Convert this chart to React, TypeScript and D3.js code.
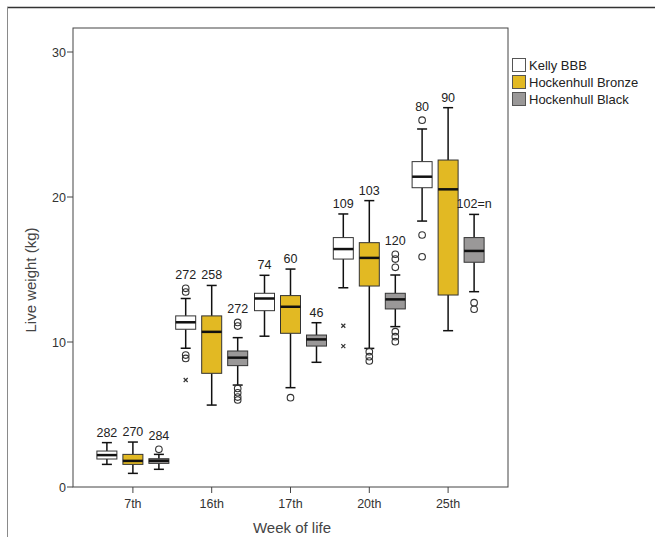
import * as d3 from 'd3'
import React from 'react';

// categories
const weeks = ['7th', '16th', '17th', '20th', '25th'];
const groups = ['Kelly BBB', 'Hockenhull Bronze', 'Hockenhull Black'];
const fills = ['#ffffff', '#e2b923', '#9a9898'];

// box stats per week: [whiskerLow, q1, median, q3, whiskerHigh]
const kellyBoxes = [
    [1.56, 1.93, 2.2, 2.48, 3.06],
    [9.57, 10.88, 11.36, 11.8, 13.0],
    [10.4, 12.16, 13.0, 13.36, 14.6],
    [13.74, 15.72, 16.41, 17.2, 18.83],
    [18.34, 20.64, 21.4, 22.44, 24.69],
];
const bronzeBoxes = [
    [0.94, 1.56, 1.8, 2.25, 3.1],
    [5.65, 7.84, 10.7, 11.8, 13.9],
    [6.85, 10.6, 12.43, 13.2, 15.03],
    [9.56, 13.86, 15.8, 16.85, 19.75],
    [10.78, 13.24, 20.53, 22.55, 26.16],
];
const blackBoxes = [
    [1.22, 1.63, 1.81, 1.95, 2.25],
    [7.03, 8.37, 8.92, 9.38, 10.3],
    [8.6, 9.72, 10.18, 10.48, 11.33],
    [11.06, 12.28, 12.94, 13.36, 14.62],
    [13.47, 15.5, 16.28, 17.2, 18.8],
];

// outliers (circles) per week
const kellyOutliers = [[], [13.45, 13.7, 9.1, 8.87], [], [], [25.3, 17.38, 15.88]];
const bronzeOutliers = [[], [], [6.16], [9.33, 8.99, 8.69], []];
const blackOutliers = [[2.6], [11.1, 11.35, 6.8, 6.5, 6.2, 6.0], [], [16.05, 15.72, 15.15, 10.71, 10.37, 10.02], [12.71, 12.26]];

// extremes (crosses) per week
const kellyExtremes = [[], [7.38], [], [11.12, 9.72], []];
const bronzeExtremes = [[], [], [], [], []];
const blackExtremes = [[], [], [], [], []];

// sample size labels
const kellyN = ['282', '272', '74', '109', '80'];
const bronzeN = ['270', '258', '60', '103', '90'];
const blackN = ['284', '272', '46', '120', '102=n'];

const yTicks = [0, 10, 20, 30];

const boxes = [kellyBoxes, bronzeBoxes, blackBoxes];
const outliers = [kellyOutliers, bronzeOutliers, blackOutliers];
const extremes = [kellyExtremes, bronzeExtremes, blackExtremes];
const nLabels = [kellyN, bronzeN, blackN];

const App = () => {
    const left = 73, right = 508, top = 28, bottom = 487;
    const font = 'Liberation Sans, Arial, sans-serif';

    const x = d3.scalePoint().domain(weeks).range([left, right]).padding(0.76);
    const y = d3.scaleLinear().domain([0, 30]).range([bottom, 52]);
    const offset = d3.scalePoint().domain(groups).range([-26, 26]);
    const bw = 20;

    return (
        <svg width={655} height={537} style={{ position: 'absolute', left: 0, top: 0 }} fontFamily={font}>
            {/* outer frame: top and left only */}
            <line x1={7} x2={655} y1={7.5} y2={7.5} stroke="#333" strokeWidth={1.5} />
            <line x1={7.5} x2={7.5} y1={7} y2={537} stroke="#8a8a8a" />
            {/* plot frame */}
            <rect x={left} y={top} width={right - left} height={bottom - top} fill="#fff" stroke="#444" />

            {/* y axis */}
            {yTicks.map(t => (
                <g key={t}>
                    <line x1={left - 6} x2={left} y1={y(t)} y2={y(t)} stroke="#444" />
                    <text x={left - 7} y={y(t) + 4.5} textAnchor="end" fontSize={12.5} fill="#333">{t}</text>
                </g>
            ))}
            <text transform={`translate(36, 280) rotate(-90)`} textAnchor="middle" fontSize={15} fill="#444">Live weight (kg)</text>

            {/* x axis */}
            {weeks.map(w => (
                <g key={w}>
                    <line x1={x(w)} x2={x(w)} y1={bottom} y2={bottom + 6} stroke="#444" />
                    <text x={x(w)} y={bottom + 21} textAnchor="middle" fontSize={12.5} fill="#333">{w}</text>
                </g>
            ))}
            <text x={292} y={533} textAnchor="middle" fontSize={15} fill="#444">Week of life</text>

            {/* boxes */}
            {groups.map((g, gi) => weeks.map((w, wi) => {
                const [lo, q1, med, q3, hi] = boxes[gi][wi];
                const cx = x(w) + offset(g);
                const outs = outliers[gi][wi];
                const exts = extremes[gi][wi];
                const topVal = d3.max([hi, ...outs, ...exts]);
                const gap = topVal > hi ? 9 : 6;
                return (
                    <g key={g + w}>
                        <line x1={cx} x2={cx} y1={y(hi)} y2={y(q3)} stroke="#111" strokeWidth={1.5} />
                        <line x1={cx} x2={cx} y1={y(q1)} y2={y(lo)} stroke="#111" strokeWidth={1.5} />
                        <line x1={cx - 5} x2={cx + 5} y1={y(hi)} y2={y(hi)} stroke="#111" strokeWidth={1.5} />
                        <line x1={cx - 5} x2={cx + 5} y1={y(lo)} y2={y(lo)} stroke="#111" strokeWidth={1.5} />
                        <rect x={cx - bw / 2} y={y(q3)} width={bw} height={y(q1) - y(q3)} fill={fills[gi]} stroke="#333" strokeWidth={1} />
                        <line x1={cx - bw / 2} x2={cx + bw / 2} y1={y(med)} y2={y(med)} stroke="#111" strokeWidth={2.5} />
                        {outs.map((o, i) => (
                            <circle key={i} cx={cx} cy={y(o)} r={3.3} fill="none" stroke="#333" strokeWidth={1.1} />
                        ))}
                        {exts.map((e, i) => (
                            <path key={i} d={`M${cx - 2},${y(e) - 2}L${cx + 2},${y(e) + 2}M${cx - 2},${y(e) + 2}L${cx + 2},${y(e) - 2}`} stroke="#333" strokeWidth={1.2} />
                        ))}
                        <text x={cx} y={y(topVal) - gap} textAnchor="middle" fontSize={12.5} fill="#222">{nLabels[gi][wi]}</text>
                    </g>
                );
            }))}

            {/* legend */}
            {groups.map((g, gi) => (
                <g key={g} transform={`translate(512, ${58 + gi * 17})`}>
                    <rect x={0.5} y={0.5} width={13} height={13} fill={fills[gi]} stroke="#555" />
                    <text x={17} y={11.5} fontSize={13} fill="#222">{g}</text>
                </g>
            ))}
        </svg>
    );
};

export default App;
